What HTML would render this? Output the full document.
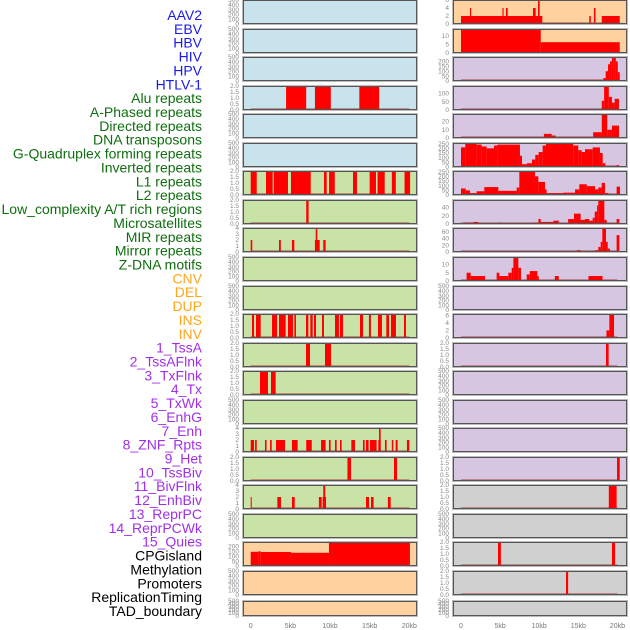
<!DOCTYPE html>
<html><head><meta charset="utf-8"><style>
html,body{margin:0;padding:0;background:#fff;}
svg{display:block;font-family:"Liberation Sans",sans-serif;}
</style></head><body>
<svg id="chart" width="630" height="630" viewBox="0 0 630 630" xmlns="http://www.w3.org/2000/svg">
<g id="labels"></g>
<g id="panels"></g>
<g id="xaxis"></g>
</svg>
<script>
// ---- data ----
const trackLabels = ["AAV2","EBV","HBV","HIV","HPV","HTLV-1","Alu repeats","A-Phased repeats","Directed repeats","DNA transposons","G-Quadruplex forming repeats","Inverted repeats","L1 repeats","L2 repeats","Low_complexity A/T rich regions","Microsatellites","MIR repeats","Mirror repeats","Z-DNA motifs","CNV","DEL","DUP","INS","INV","1_TssA","2_TssAFlnk","3_TxFlnk","4_Tx","5_TxWk","6_EnhG","7_Enh","8_ZNF_Rpts","9_Het","10_TssBiv","11_BivFlnk","12_EnhBiv","13_ReprPC","14_ReprPCWk","15_Quies","CPGisland","Methylation","Promoters","ReplicationTiming","TAD_boundary"];
const labelGroups = [6,13,5,15,5];
const groupColors = ["#1a1aee","#0f6e0f","#ffa51a","#a030e8","#000000"];
const xTickValues = [0,5,10,15,20];
const xTickLabels = ["0","5kb","10kb","15kb","20kb"];
const ticksEmpty = [0,100,200,300,400,500];
const ticks2 = [0,0.5,1,1.5,2];
const ticks4 = [0,1,2,3,4];

// segments: [startKb, endKb, value]
const leftAlu = [[4.46,7.0,2],[8.1,10.1,2],[13.7,16.2,2]];
const leftL1 = [[0,0.76,2],[1.93,2.77,2],[2.9,4.7,2],[5.08,7.57,2],[9.24,9.58,2],[9.88,10.6,2],[12.9,13.4,2],[15.0,15.8,2],[16.0,16.9,2],[17.8,18.3,2],[19.4,20.1,2]];
const leftR7 = [[7.0,7.3,2]];
const leftR8 = [[0,0.2,2],[3.57,3.8,2],[5.2,5.5,2],[8.1,8.7,2],[8.2,8.4,4],[9.15,9.45,2]];
const leftR11 = [[0.16,0.42,2],[0.67,1.26,2],[2.69,3.32,2],[3.57,4.41,2],[4.7,5.33,2],[5.5,5.71,2],[6.97,7.27,2],[7.52,7.82,2],[7.98,8.24,2],[8.99,9.24,2],[10.63,11.13,2],[11.26,11.64,2],[13.78,14.16,2],[14.91,15.16,2],[16.05,16.55,2],[17.1,17.44,2],[17.69,18.32,2],[19.33,19.58,2]];
const leftR12 = [[6.97,7.48,2],[9.37,10.13,2]];
const leftR13 = [[1.17,2.18,2],[2.56,3.15,2]];
const leftR15 = [[0,0.42,2],[0.55,0.76,2],[1.8,2.0,2],[2.44,2.65,2],[3.19,4.33,2],[5.2,5.92,2],[7.0,7.7,2],[8.87,9.45,2],[9.87,10.08,2],[10.63,10.84,2],[11.26,11.47,2],[12.69,13.15,2],[14.16,14.37,2],[14.54,14.87,2],[15.04,15.88,2],[16.09,16.39,2],[16.18,16.39,4],[16.93,17.14,2],[17.8,17.98,2],[18.28,18.53,2],[19.7,20.0,2]];
const leftR16 = [[12.2,12.65,2],[18.07,18.45,2]];
const leftR17 = [[0,0.13,2],[3.36,3.82,2],[5.2,5.55,2],[8.6,8.95,2],[9.07,9.5,2],[9.15,9.4,4],[14.54,14.92,2],[15.17,15.5,2],[17.3,17.65,2]];
const leftMethyl = [[0,0.97,145],[0.97,1.26,150],[1.26,5.08,143],[5.08,9.87,135],[9.87,20.08,245]];

const rightR0 = [[0,10.4,2],[1.15,1.3,4],[5.3,5.45,4],[5.75,5.97,4],[9.2,9.55,4],[9.85,10.06,6],[16.4,16.6,2],[17.0,17.2,4],[18.0,20.3,2]];
const rightR1 = [[0,10.2,14],[10.2,20.3,6.3]];
const rightR2 = [[17.9,18.2,10],[18.2,18.5,30],[18.5,18.8,100],[18.8,19.05,170],[19.05,19.3,200],[19.3,19.55,240],[19.55,19.8,245],[19.8,20.05,200],[20.05,20.3,90]];
const rightR3 = [[18.0,18.3,55],[18.3,18.9,144],[18.9,19.3,79],[19.3,19.65,44],[19.65,20.2,67]];
const rightR4 = [[10.6,11.6,5],[11.6,12.1,3],[16.9,18.0,7],[18.0,18.7,28.8],[18.7,19.0,10],[19.0,19.3,10],[19.3,20.2,15]];
const rightR5 = [[0,0.55,210],[0.55,2.0,250],[2.0,2.64,240],[2.64,3.28,220],[3.28,4.22,200],[4.22,4.65,230],[4.65,7.54,240],[7.54,7.8,120],[7.8,8.4,30],[8.4,9.08,40],[9.08,9.5,80],[9.5,9.93,130],[9.93,10.44,160],[10.44,10.87,230],[10.87,14.36,250],[14.36,15.0,230],[15.0,15.43,180],[15.43,15.86,160],[15.86,16.84,190],[16.84,17.77,210],[17.77,18.12,150],[18.12,18.46,40],[18.46,19.9,5],[19.9,20.25,20]];
const rightR6 = [[0,0.6,70],[0.6,1.15,50],[1.15,2.0,20],[2.0,2.98,40],[2.98,4.77,85],[4.77,7.12,45],[7.12,7.46,80],[7.46,9.46,250],[9.46,9.89,200],[9.89,10.74,140],[10.74,10.95,60],[10.95,13.09,20],[13.09,14.58,25],[14.58,15.13,60],[15.13,16.07,115],[16.07,17.14,95],[17.14,17.56,60],[17.56,17.99,80],[17.99,18.41,130],[18.41,18.84,20],[18.84,19.9,5],[19.9,20.33,90]];
const rightR7 = [[0.43,1.6,3],[1.6,2.2,5],[4.8,5.2,3],[9.25,9.9,3],[9.9,10.2,12],[10.2,11.8,5],[11.8,12.5,8],[13.7,14.45,12],[14.45,15.3,25],[15.3,15.86,10],[15.86,16.4,12],[16.4,16.84,8],[16.84,17.1,15],[17.1,17.4,30],[17.4,17.56,45],[17.56,18.33,58],[18.33,18.63,10],[19.9,20.25,12]];
const rightR8 = [[14.8,15.3,5],[17.1,17.56,5],[17.56,17.86,15],[17.86,18.07,30],[18.07,18.54,71],[18.54,18.76,30],[18.76,19.05,10],[19.9,20.25,50]];
const rightR9 = [[0.72,1.24,5],[1.24,3.07,3],[4.56,4.9,5],[4.9,6.05,3],[6.05,6.48,5],[6.48,6.7,8],[6.7,7.33,14.5],[7.33,7.67,8],[8.4,8.8,4],[8.8,9.76,6],[9.76,9.95,3],[12.0,12.5,3],[16.3,18.1,3]];
const rightR11 = [[18.6,18.97,2],[18.97,19.57,6.3]];
const rightR12 = [[18.54,18.88,2]];
const rightR16 = [[19.95,20.3,2]];
const rightR17 = [[18.9,19.9,2]];
const rightR19 = [[4.73,5.1,2],[19.3,19.7,2]];
const rightR20 = [[13.43,13.7,2]];

const BLUE="#c8e3eb", GREEN="#c9e2a6", ORANGE="#fed19f", PURPLE="#d6c6e2", GRAY="#d0d0d0";
const leftBgs = [BLUE,BLUE,BLUE,BLUE,BLUE,BLUE,GREEN,GREEN,GREEN,GREEN,GREEN,GREEN,GREEN,GREEN,GREEN,GREEN,GREEN,GREEN,GREEN,ORANGE,ORANGE,ORANGE];
const rightBgs = [ORANGE,ORANGE,PURPLE,PURPLE,PURPLE,PURPLE,PURPLE,PURPLE,PURPLE,PURPLE,PURPLE,PURPLE,PURPLE,PURPLE,PURPLE,PURPLE,PURPLE,GRAY,GRAY,GRAY,GRAY,GRAY];
const leftData = [null,null,null,leftAlu,null,null,leftL1,leftR7,leftR8,null,null,leftR11,leftR12,leftR13,null,leftR15,leftR16,leftR17,null,leftMethyl,null,null];
const rightData = [rightR0,rightR1,rightR2,rightR3,rightR4,rightR5,rightR6,rightR7,rightR8,rightR9,null,rightR11,rightR12,null,null,null,rightR16,rightR17,null,rightR19,rightR20,null];
const leftYmax = [500,500,500,2,500,500,2,2,4,500,500,2,2,2,500,4,2,4,500,245,500,500];
const rightYmax = [6,14,245,144,29,257,257,58,71,14.5,500,6.3,2,500,500,500,2,2,500,2,2,500];
const leftTicks = [ticksEmpty,ticksEmpty,ticksEmpty,ticks2,ticksEmpty,ticksEmpty,ticks2,ticks2,ticks4,ticksEmpty,ticksEmpty,ticks2,ticks2,ticks2,ticksEmpty,ticks4,ticks2,ticks4,ticksEmpty,[0,50,100,150,200],ticksEmpty,ticksEmpty];
const rightTicks = [[0,2,4,6],[0,5,10],[0,50,100,150,200],[0,50,100],[0,10,20],[0,50,100,150,200,250],[0,50,100,150,200,250],[0,20,40],[0,20,40,60],[0,5,10],ticksEmpty,[0,2,4,6],ticks2,ticksEmpty,ticksEmpty,ticksEmpty,ticks2,ticks2,ticksEmpty,ticks2,ticks2,ticksEmpty];

// ---- rendering ----
const NS="http://www.w3.org/2000/svg";
function mk(tag, attrs, parent){const e=document.createElementNS(NS,tag);for(const k in attrs)e.setAttribute(k,attrs[k]);parent.appendChild(e);return e;}
const labelsG=document.getElementById('labels'), panelsG=document.getElementById('panels'), xG=document.getElementById('xaxis');

// labels
let li=0;
labelGroups.forEach((n,gi)=>{for(let k=0;k<n;k++){
  const t=mk('text',{x:202,y:15+li*13.86+5,'text-anchor':'end','font-size':'14',fill:groupColors[gi]},labelsG);
  t.textContent=trackLabels[li];
  
  
  li++;}});

const cols=[{x0:243,x1:417,zero:250.7,per:7.93,tickX:239,bgs:leftBgs,data:leftData,ymax:leftYmax,ticks:leftTicks,name:'left'},
            {x0:453,x1:627,zero:461,per:7.82,tickX:449,bgs:rightBgs,data:rightData,ymax:rightYmax,ticks:rightTicks,name:'right'}];
function fmt(v,ticks){return ticks===ticks2?v.toFixed(1):String(v);}
cols.forEach(c=>{
  const xs=kb=>c.zero+kb*c.per;
  for(let r=0;r<22;r++){
    const top = r===21?601:Math.round(r*28.55);
    const h = r===21?15:24;
    const g=mk('g',{},panelsG);
    
    
    mk('rect',{x:c.x0-1,y:top-1,width:c.x1-c.x0+2,height:h+2,fill:'#bbb'},g);
    mk('rect',{x:c.x0,y:top,width:c.x1-c.x0,height:h,fill:c.bgs[r]},g);
    const ymax=c.ymax[r], bottom=top+h;
    const ys=v=>bottom-v/ymax*h;
    const d=c.data[r];
    if(d){
      mk('rect',{x:xs(0),y:bottom-2,width:xs(20)-xs(0),height:2,fill:'rgba(160,0,0,0.35)'},g);
      d.forEach(s=>{
        const x1=Math.max(c.x0,xs(s[0])), x2=Math.min(c.x1,xs(s[1]));
        const b=mk('rect',{x:x1,y:ys(s[2]),width:Math.max(0.8,x2-x1),height:bottom-ys(s[2]),fill:'#ff0000'},g);
        
        
      });
    }
    mk('rect',{x:c.x0+0.5,y:top+0.5,width:c.x1-c.x0-1,height:h-1,fill:'none',stroke:'#555','stroke-width':1},g);
    c.ticks[r].forEach(v=>{
      const t=mk('text',{x:c.tickX,y:ys(v)+2.2,'text-anchor':'end','font-size':'6.5',fill:'#888'},g);
      t.textContent=fmt(v,c.ticks[r]);
      
      
    });
  }
  xTickValues.forEach((v,i)=>{
    const t=mk('text',{x:xs(v),y:628,'text-anchor':'middle','font-size':'7',fill:'#777'},xG);
    t.textContent=xTickLabels[i];
    
    
  });
});
</script>
</body></html>
